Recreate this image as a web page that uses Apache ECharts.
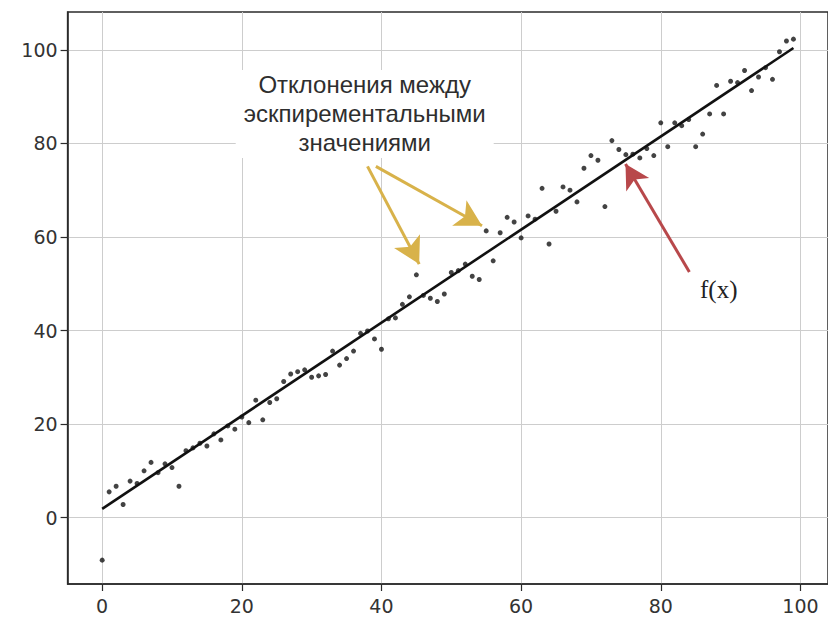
<!DOCTYPE html>
<html>
<head>
<meta charset="utf-8">
<script src="https://cdn.jsdelivr.net/npm/echarts@6/dist/echarts.min.js"></script>
<style>
  html, body { margin: 0; padding: 0; background: #ffffff; }
  #chart { width: 828px; height: 621px; }
</style>
</head>
<body>
<div id="chart"></div>
<script>
// Measured samples
const xValues = [
  0, 1, 2, 3, 4, 5, 6, 7, 8, 9,
  10, 11, 12, 13, 14, 15, 16, 17, 18, 19,
  20, 21, 22, 23, 24, 25, 26, 27, 28, 29,
  30, 31, 32, 33, 34, 35, 36, 37, 38, 39,
  40, 41, 42, 43, 44, 45, 46, 47, 48, 49,
  50, 51, 52, 53, 54, 55, 56, 57, 58, 59,
  60, 61, 62, 63, 64, 65, 66, 67, 68, 69,
  70, 71, 72, 73, 74, 75, 76, 77, 78, 79,
  80, 81, 82, 83, 84, 85, 86, 87, 88, 89,
  90, 91, 92, 93, 94, 95, 96, 97, 98, 99
];
const yValues = [
  -9.1, 5.5, 6.7, 2.8, 7.8, 7.3, 10.0, 11.8, 9.6, 11.5,
  10.7, 6.7, 14.3, 14.9, 15.9, 15.3, 17.9, 16.6, 19.6, 18.9,
  21.5, 20.3, 25.1, 20.9, 24.6, 25.4, 29.1, 30.7, 31.2, 31.6,
  30.0, 30.3, 30.6, 35.6, 32.6, 34.0, 35.6, 39.4, 39.9, 38.2,
  36.0, 42.5, 42.7, 45.6, 47.2, 51.9, 47.5, 46.9, 46.2, 47.8,
  52.4, 52.8, 54.2, 51.6, 50.9, 61.3, 54.9, 60.9, 64.2, 63.2,
  59.8, 64.5, 63.8, 70.4, 58.5, 65.5, 70.7, 70.0, 67.5, 74.7,
  77.4, 76.4, 66.5, 80.6, 78.7, 77.6, 77.7, 76.9, 78.9, 77.4,
  84.4, 79.3, 84.4, 83.8, 85.1, 79.3, 82.0, 86.3, 92.4, 86.3,
  93.3, 93.0, 95.6, 91.3, 94.2, 96.2, 93.7, 99.6, 101.9, 102.3
];

// Fitted straight line f(x), given by its two end points
const fitX = [0, 99];
const fitY = [1.86, 100.4];

// Tick values
const xTicks = [0, 20, 40, 60, 80, 100];
const yTicks = [0, 20, 40, 60, 80, 100];

// Annotation texts
const noteLines = ['Отклонения между', 'эскпирементальными', 'значениями'];
const fxLabel = 'f(x)';

const axisColor = '#2b2b2b';
const gridColor = '#cdcdcd';
const labelStyle = { color: '#333333', fontSize: 19, fontFamily: 'DejaVu Sans' };

const chart = echarts.init(document.getElementById('chart'), null, { renderer: 'svg' });

const option = {
  animation: false,
  backgroundColor: '#ffffff',
  grid: {
    left: 67.6, top: 12, width: 771, height: 572,
    show: true, borderColor: axisColor, borderWidth: 1.5, backgroundColor: '#ffffff'
  },
  xAxis: {
    type: 'value', min: -4.95, max: 103.95,
    axisLine: { show: true, onZero: false, lineStyle: { color: axisColor, width: 1.5 } },
    axisTick: { show: true, length: 7, customValues: xTicks, lineStyle: { color: axisColor, width: 1.2 } },
    axisLabel: Object.assign({ customValues: xTicks, margin: 12 }, labelStyle),
    splitLine: { show: true, lineStyle: { color: gridColor, width: 1 } }
  },
  yAxis: {
    type: 'value', min: -14.2, max: 108.1,
    axisLine: { show: true, onZero: false, lineStyle: { color: axisColor, width: 1.5 } },
    axisTick: { show: true, length: 7, customValues: yTicks, lineStyle: { color: axisColor, width: 1.2 } },
    axisLabel: Object.assign({ customValues: yTicks, margin: 10 }, labelStyle),
    splitLine: { show: true, lineStyle: { color: gridColor, width: 1 } }
  },
  series: [
    {
      type: 'scatter',
      data: xValues.map((x, i) => [x, yValues[i]]),
      symbol: 'circle',
      symbolSize: 5,
      itemStyle: { color: '#141414' },
      z: 3
    },
    {
      type: 'line',
      data: fitX.map((x, i) => [x, fitY[i]]),
      symbol: 'none',
      lineStyle: { color: '#111111', width: 2.6 },
      z: 4,
      markPoint: {
        silent: true,
        animation: false,
        data: [
          {
            coord: [37.6, 86.3],
            symbol: 'rect',
            symbolSize: [258, 88],
            itemStyle: { color: '#ffffff' },
            label: {
              show: true, position: 'inside',
              formatter: noteLines.join('\n'),
              color: '#2e2e2e', fontSize: 24, lineHeight: 29,
              fontFamily: 'Liberation Sans'
            }
          },
          {
            coord: [88.3, 48.7],
            symbol: 'rect',
            symbolSize: [2, 2],
            itemStyle: { color: 'rgba(255,255,255,0)' },
            label: {
              show: true, position: 'inside',
              formatter: fxLabel,
              color: '#222222', fontSize: 25,
              fontFamily: 'Liberation Serif'
            }
          }
        ]
      },
      markLine: {
        silent: true,
        animation: false,
        symbol: ['none', 'arrow'],
        symbolSize: [22, 26],
        label: { show: false },
        emphasis: { disabled: true },
        data: [
          [
            { coord: [38.0, 75.1], lineStyle: { color: '#d8b24a', width: 3, type: 'solid' } },
            { coord: [45.4, 54.2] }
          ],
          [
            { coord: [39.2, 75.1], lineStyle: { color: '#d8b24a', width: 3, type: 'solid' } },
            { coord: [54.4, 62.4] }
          ],
          [
            { coord: [84.1, 52.5], lineStyle: { color: '#b8484b', width: 3, type: 'solid' } },
            { coord: [74.95, 75.6], symbolSize: [20, 24] }
          ]
        ]
      }
    }
  ]
};

chart.setOption(option);
</script>
</body>
</html>
